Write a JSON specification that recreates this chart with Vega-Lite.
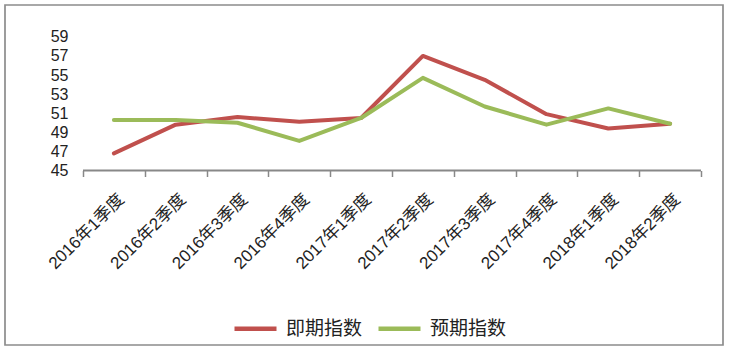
{
  "$schema": "https://vega.github.io/schema/vega-lite/v6.json",
  "width": 718,
  "height": 340,
  "autosize": {"type": "none"},
  "padding": {"left": 5, "top": 5, "right": 9, "bottom": 7},
  "background": "white",
  "config": {"view": {"stroke": "#8c8c8c", "strokeWidth": 1.7}, "font": "Liberation Sans"},
  "data": {"values": [
    {"季度": "2016年1季度", "指数": "即期指数", "值": 46.8},
    {"季度": "2016年2季度", "指数": "即期指数", "值": 49.8},
    {"季度": "2016年3季度", "指数": "即期指数", "值": 50.6},
    {"季度": "2016年4季度", "指数": "即期指数", "值": 50.1},
    {"季度": "2017年1季度", "指数": "即期指数", "值": 50.5},
    {"季度": "2017年2季度", "指数": "即期指数", "值": 57.0},
    {"季度": "2017年3季度", "指数": "即期指数", "值": 54.5},
    {"季度": "2017年4季度", "指数": "即期指数", "值": 50.9},
    {"季度": "2018年1季度", "指数": "即期指数", "值": 49.4},
    {"季度": "2018年2季度", "指数": "即期指数", "值": 49.9},
    {"季度": "2016年1季度", "指数": "预期指数", "值": 50.3},
    {"季度": "2016年2季度", "指数": "预期指数", "值": 50.3},
    {"季度": "2016年3季度", "指数": "预期指数", "值": 50.0},
    {"季度": "2016年4季度", "指数": "预期指数", "值": 48.1},
    {"季度": "2017年1季度", "指数": "预期指数", "值": 50.5},
    {"季度": "2017年2季度", "指数": "预期指数", "值": 54.7},
    {"季度": "2017年3季度", "指数": "预期指数", "值": 51.7},
    {"季度": "2017年4季度", "指数": "预期指数", "值": 49.8},
    {"季度": "2018年1季度", "指数": "预期指数", "值": 51.5},
    {"季度": "2018年2季度", "指数": "预期指数", "值": 49.9}
  ]},
  "layer": [
    {
      "data": {"values": [{}]},
      "mark": {"type": "rule", "color": "#888888", "strokeWidth": 2},
      "encoding": {
        "x": {"datum": "2016年1季度", "type": "nominal", "bandPosition": 0},
        "x2": {"datum": "2018年2季度", "bandPosition": 1},
        "y": {"datum": 45, "type": "quantitative"}
      }
    },
    {
      "mark": {"type": "line", "strokeWidth": 4, "strokeJoin": "round", "strokeCap": "round"},
      "encoding": {
        "x": {
          "field": "季度", "type": "nominal", "sort": null,
          "scale": {
            "type": "band", "paddingInner": 0, "paddingOuter": 0.809, "align": 0.78,
            "domain": ["2016年1季度", "2016年2季度", "2016年3季度", "2016年4季度", "2017年1季度", "2017年2季度", "2017年3季度", "2017年4季度", "2018年1季度", "2018年2季度"]
          },
          "axis": {
            "title": null, "domain": false, "grid": false, "offset": -174.5,
            "tickBand": "extent", "tickSize": 6, "tickColor": "#888888", "tickWidth": 1.5,
            "labelAngle": -45, "labelAlign": "right", "labelBaseline": "middle",
            "labelPadding": 20, "labelOffset": 7, "labelFontSize": 17,
            "labelFont": "Liberation Sans, Noto Sans CJK SC", "labelColor": "#222222"
          }
        },
        "y": {
          "field": "值", "type": "quantitative",
          "scale": {"domain": [26.73, 62.33], "nice": false, "zero": false},
          "axis": {
            "title": null, "domain": false, "ticks": false, "tickSize": 0, "grid": false,
            "values": [45, 47, 49, 51, 53, 55, 57, 59], "offset": -63, "labelPadding": 0,
            "labelFontSize": 16, "labelColor": "#222222", "labelFont": "Liberation Sans"
          }
        },
        "color": {
          "field": "指数", "type": "nominal",
          "scale": {"domain": ["即期指数", "预期指数"], "range": ["#C0504D", "#9BBB59"]},
          "legend": {
            "orient": "none", "legendX": 227, "legendY": 300, "direction": "horizontal",
            "title": null, "symbolType": "stroke", "symbolSize": 1764, "symbolStrokeWidth": 4.5,
            "labelFontSize": 19, "labelFont": "Noto Sans CJK SC", "labelColor": "#222222",
            "columnPadding": 6, "labelOffset": 7, "padding": 0
          }
        }
      }
    }
  ]
}
